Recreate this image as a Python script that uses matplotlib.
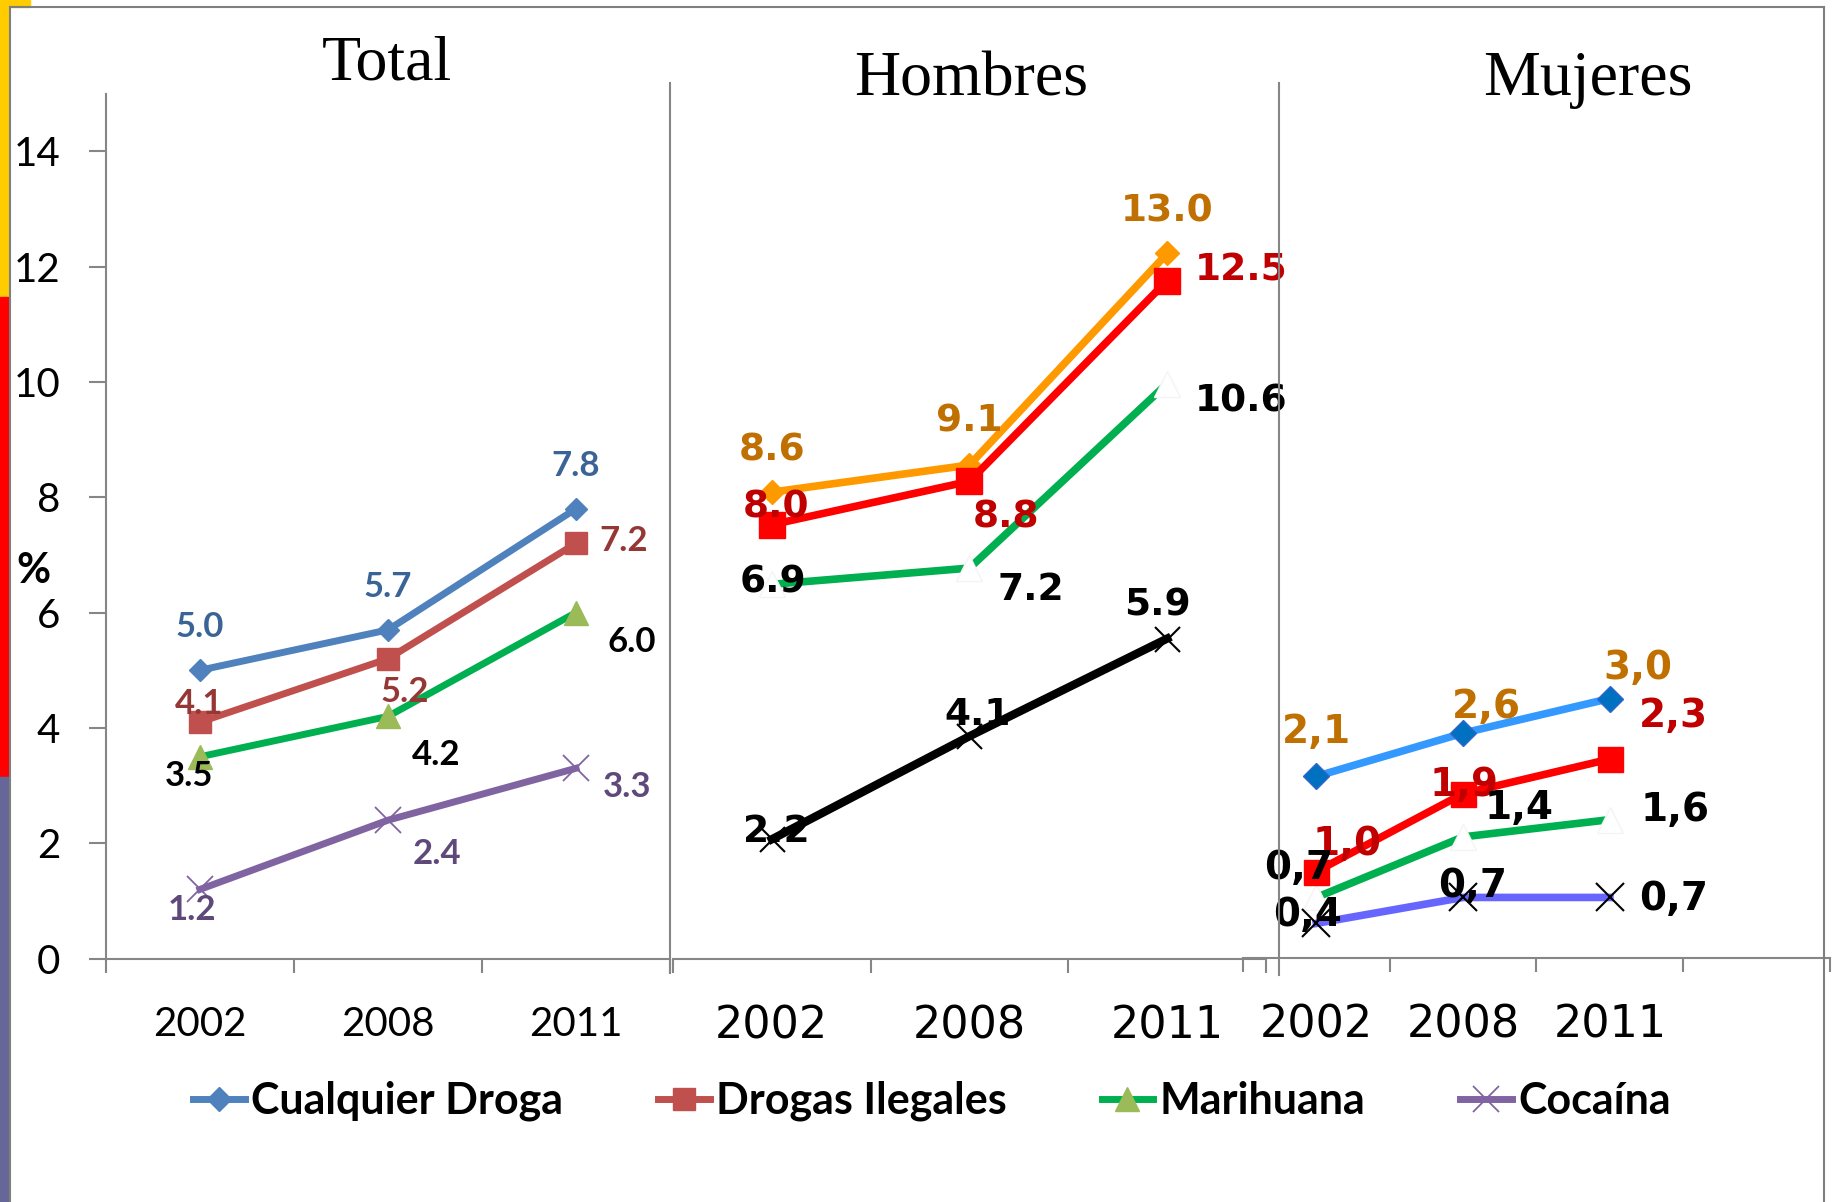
import matplotlib
matplotlib.use('Agg')
import matplotlib.pyplot as plt
from matplotlib.lines import Line2D
from matplotlib.patches import Rectangle

W, H = 1833, 1202

# datos
years = ['2002', '2008', '2011']
y_ticks = [0, 2, 4, 6, 8, 10, 12, 14]
series_names = ['Cualquier Droga', 'Drogas Ilegales', 'Marihuana', 'Cocaína']

total_cualquier = [5.0, 5.7, 7.8]
total_ilegales = [4.1, 5.2, 7.2]
total_marihuana = [3.5, 4.2, 6.0]
total_cocaina = [1.2, 2.4, 3.3]

hombres_cualquier = [8.6, 9.1, 13.0]
hombres_ilegales = [8.0, 8.8, 12.5]
hombres_marihuana = [6.9, 7.2, 10.6]
hombres_cocaina = [2.2, 4.1, 5.9]

mujeres_cualquier = [2.1, 2.6, 3.0]
mujeres_ilegales = [1.0, 1.9, 2.3]
mujeres_marihuana = [0.7, 1.4, 1.6]
mujeres_cocaina = [0.4, 0.7, 0.7]

GRAY = '#868686'
CALIBRI = ['Lato', 'DejaVu Sans']
VERDANA = ['DejaVu Sans']


def px_box(x0, x1, y_bottom, y_top):
    # caja en pixeles de la imagen -> fracciones de la figura
    return [x0 / W, 1 - y_bottom / H, (x1 - x0) / W, (y_bottom - y_top) / H]


def style_axes(ax, n_slots, ymax, font, size, pad):
    ax.set_facecolor('none')
    ax.set_xlim(-0.5, n_slots - 0.5)
    ax.set_ylim(0, ymax)
    for s in ['top', 'right', 'left']:
        ax.spines[s].set_visible(False)
    ax.spines['bottom'].set_color(GRAY)
    ax.spines['bottom'].set_linewidth(1.5)
    ax.set_xticks(range(len(years)))
    ax.set_xticklabels(years, family=font, fontsize=size)
    ax.set_xticks([i - 0.5 for i in range(n_slots + 1)], minor=True)
    ax.tick_params(axis='x', which='major', length=0, pad=pad)
    ax.tick_params(axis='x', which='minor', length=10, width=1.5, color=GRAY, direction='out')
    ax.set_yticks([])


def add_labels(ax, values, offsets, color, font, size, comma=False):
    for i, v in enumerate(values):
        txt = f'{v:.1f}'
        if comma:
            txt = txt.replace('.', ',')
        ax.annotate(txt, (i, v), xytext=offsets[i], textcoords='offset points',
                    ha='center', va='center_baseline', color=color, family=font,
                    fontsize=size, fontweight='bold', zorder=10, annotation_clip=False)


fig = plt.figure(figsize=(W / 100, H / 100), dpi=100)

# barra de colores a la izquierda y marco
fig.patches.append(Rectangle((0, 1 - 297 / H), 9 / W, 297 / H, transform=fig.transFigure, color='#FFCC00', zorder=0))
fig.patches.append(Rectangle((0, 1 - 7 / H), 30 / W, 7 / H, transform=fig.transFigure, color='#FFCC00', zorder=0))
fig.patches.append(Rectangle((0, 1 - 777 / H), 9 / W, 480 / H, transform=fig.transFigure, color='#FF0000', zorder=0))
fig.patches.append(Rectangle((0, 0), 9 / W, 1 - 777 / H, transform=fig.transFigure, color='#666699', zorder=0))
fig.add_artist(Line2D([10 / W, 1824 / W], [1 - 7 / H, 1 - 7 / H], color='#7F7F7F', lw=1.5))
fig.add_artist(Line2D([10 / W, 10 / W], [0, 1 - 7 / H], color='#7F7F7F', lw=1.5))
fig.add_artist(Line2D([1824 / W, 1824 / W], [0, 1 - 7 / H], color='#7F7F7F', lw=1.5))

# separadores de paneles
fig.add_artist(Line2D([670 / W, 670 / W], [1 - 83 / H, 1 - 973 / H], color=GRAY, lw=1.5))
fig.add_artist(Line2D([1279 / W, 1279 / W], [1 - 83 / H, 1 - 975 / H], color=GRAY, lw=1.5))

# ---------- Total ----------
ax1 = fig.add_axes(px_box(106, 670, 958.6, 93.5))
style_axes(ax1, 3, 15, CALIBRI, 29, 34)
ax1.spines['left'].set_visible(True)
ax1.spines['left'].set_color(GRAY)
ax1.spines['left'].set_linewidth(1.5)
ax1.set_yticks(y_ticks)
ax1.set_yticklabels([str(t) for t in y_ticks], family=CALIBRI, fontsize=29)
ax1.tick_params(axis='y', length=12, width=1.5, color=GRAY, pad=21)

x = range(len(years))
ax1.plot(x, total_cualquier, color='#4F81BD', lw=5, marker='D', ms=11, mfc='#4F81BD', mec='#4F81BD', zorder=4)
ax1.plot(x, total_ilegales, color='#C0504D', lw=5, marker='s', ms=16, mfc='#C0504D', mec='#C0504D', zorder=3)
ax1.plot(x, total_marihuana, color='#00B050', lw=5, marker='^', ms=17, mfc='#9BBB59', mec='#9BBB59', zorder=3)
ax1.plot(x, total_cocaina, color='#8064A2', lw=5, marker='x', ms=19, mew=1.3, mec='#8064A2', zorder=3)

add_labels(ax1, total_cualquier, [(0, 33), (0, 33), (0, 33)], '#3B6496', CALIBRI, 25)
add_labels(ax1, total_ilegales, [(-1, 15), (12, -22), (34, 4)], '#953735', CALIBRI, 25)
add_labels(ax1, total_marihuana, [(-8, -12), (35, -26), (40, -19)], 'black', CALIBRI, 25)
add_labels(ax1, total_cocaina, [(-6, -13), (35, -22), (37, -11)], '#5F497A', CALIBRI, 25)

# ---------- Hombres ----------
ax2 = fig.add_axes(px_box(673, 1266, 958.6, 958.6 - 16 * 54.24))
style_axes(ax2, 3, 16, VERDANA, 32, 33)
ax2.plot(x, hombres_cualquier, color='#FF9900', lw=5.5, marker='D', ms=12, mfc='#FF9900', mec='#FF9900', zorder=4)
ax2.plot(x, hombres_ilegales, color='#FF0000', lw=5.5, marker='s', ms=19, mfc='#FF0000', mec='#FF0000', zorder=4)
ax2.plot(x, hombres_marihuana, color='#00B050', lw=5.5, marker='^', ms=19, mfc='white', mec='#F4F4F4', zorder=3)
ax2.plot(x, hombres_cocaina, color='black', lw=6, marker='x', ms=18, mew=1.5, mec='black', zorder=3)

add_labels(ax2, hombres_cualquier, [(0, 33), (0, 34), (0, 33)], '#C07000', VERDANA, 27)
add_labels(ax2, hombres_ilegales, [(3, 15), (26, -23), (53, 10)], '#C00000', VERDANA, 27)
add_labels(ax2, hombres_marihuana, [(1, 4), (44, -13), (53, -10)], 'black', VERDANA, 27)
add_labels(ax2, hombres_cocaina, [(3, 8), (6, 18), (-7, 27)], 'black', VERDANA, 27)

# ---------- Mujeres ----------
ax3 = fig.add_axes(px_box(1243, 1830, 958, 958 - 10 * 86.5))
style_axes(ax3, 4, 10, VERDANA, 32, 33)
ax3.plot(x, mujeres_cualquier, color='#3399FF', lw=5.5, marker='D', ms=13, mfc='#0070C0', mec='#3366CC', zorder=4)
ax3.plot(x, mujeres_ilegales, color='#FF0000', lw=5.5, marker='s', ms=18, mfc='#FF0000', mec='#FF0000', zorder=4)
ax3.plot(x, mujeres_marihuana, color='#00B050', lw=5.5, marker='^', ms=19, mfc='white', mec='#F4F4F4', zorder=3)
ax3.plot(x, mujeres_cocaina, color='#6666FF', lw=5.5, marker='x', ms=20, mew=1.5, mec='black', zorder=3)

add_labels(ax3, mujeres_cualquier, [(0, 35), (17, 22), (20, 25)], '#C07000', VERDANA, 28, comma=True)
add_labels(ax3, mujeres_ilegales, [(22, 23), (1, 9), (46, 34)], '#C00000', VERDANA, 28, comma=True)
add_labels(ax3, mujeres_marihuana, [(-13, 24), (40, 24), (47, 10)], 'black', VERDANA, 28, comma=True)
add_labels(ax3, mujeres_cocaina, [(-6, 9), (7, 11), (46, 2)], 'black', VERDANA, 28, comma=True)

# titulos
fig.text(387 / W, 1 - 79 / H, 'Total', ha='center', va='baseline', family='Liberation Serif', fontsize=46)
fig.text(971 / W, 1 - 96 / H, 'Hombres', ha='center', va='baseline', family='Liberation Serif', fontsize=46)
fig.text(1588 / W, 1 - 95 / H, 'Mujeres', ha='center', va='baseline', family='Liberation Serif', fontsize=46)
fig.text(33 / W, 1 - 571 / H, '%', ha='center', va='center', family=CALIBRI, fontweight='bold', fontsize=30)

# leyenda
handles = [
    Line2D([], [], color='#4F81BD', lw=5, marker='D', ms=12, mfc='#4F81BD', mec='#4F81BD'),
    Line2D([], [], color='#C0504D', lw=5, marker='s', ms=16, mfc='#C0504D', mec='#C0504D'),
    Line2D([], [], color='#00B050', lw=5, marker='^', ms=17, mfc='#9BBB59', mec='#9BBB59'),
    Line2D([], [], color='#8064A2', lw=5, marker='x', ms=19, mew=1.3, mec='#8064A2'),
]
fig.legend(handles, series_names, loc='center', bbox_to_anchor=(932 / W, 1 - 1101 / H),
           ncol=4, frameon=False, handlelength=1.2, handletextpad=0.15, columnspacing=2.2,
           prop={'family': CALIBRI, 'weight': 'bold', 'size': 31})

fig.savefig('out.png', dpi=100)
